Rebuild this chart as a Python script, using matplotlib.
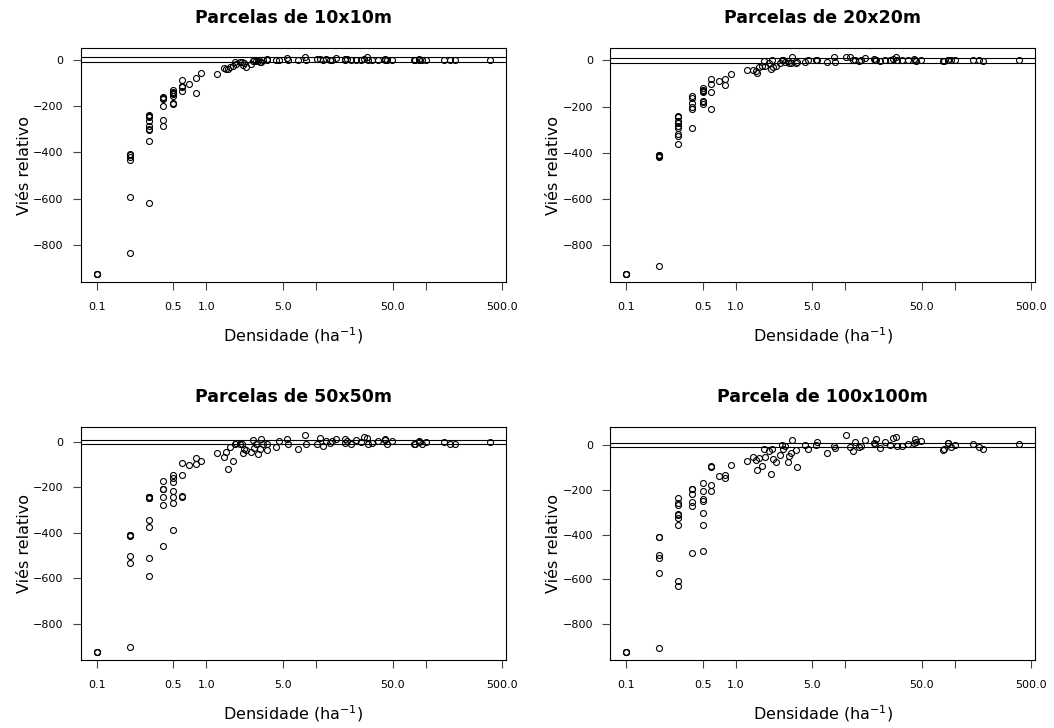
import matplotlib
matplotlib.use("Agg")
import matplotlib.pyplot as plt

# species densities (ha^-1), shared by all plot sizes
dens_low = [0.1, 0.1, 0.1,
            0.2, 0.2, 0.2, 0.2, 0.2, 0.2,
            0.3, 0.3, 0.3, 0.3, 0.3, 0.3, 0.3, 0.3, 0.3,
            0.4, 0.4, 0.4, 0.4, 0.4, 0.4,
            0.5, 0.5, 0.5, 0.5, 0.5, 0.5, 0.5,
            0.6, 0.6, 0.6, 0.6,
            0.7,
            0.8, 0.8,
            0.9]
dens_high = [1.26, 1.45, 1.52, 1.57, 1.63, 1.75, 1.83, 1.86, 2.02, 2.10,
             2.15, 2.19, 2.32, 2.53, 2.67, 2.73, 2.81, 2.99, 3.07, 3.18,
             3.30, 3.56, 3.61, 4.28, 4.62, 5.39, 5.58, 6.80, 7.92, 8.04,
             10.3, 11.0, 11.7, 12.3, 13.4, 14.1, 15.1, 18.4, 18.6, 19.1,
             20.9, 23.2, 25.8, 27.5, 29.5, 29.9, 32.8, 37.2, 42.5, 43.1,
             44.9, 49.9, 78.7, 79.8, 86.3, 88.1, 92.5, 101, 146, 168,
             184, 390]
densidade = dens_low + dens_high

# relative bias (%) for each plot size
vies_10 = [-922, -922, -922,
           -408, -410, -418, -432, -591, -835,
           -239, -245, -247, -264, -288, -297, -303, -350, -617,
           -161, -165, -170, -199, -262, -285,
           -130, -141, -145, -150, -159, -185, -190,
           -87, -115, -120, -137,
           -107,
           -81, -146,
           -58,
           -61, -38, -40, -40, -32, -26, -9, -20, -12, -9,
           -22, -15, -32, -17, -6, -3, -6, -6, -9, -9,
           -3, 3, 0, -3, 0, 6, 0, -3, 11, 0,
           4, 4, 0, 3, 0, 0, 7, 1, 0, 1,
           0, 0, 0, 4, 10, 0, 0, 0, 4, 0,
           0, 0, 0, -3, 3, 0, 0, 0, 0, 0,
           0, 0]
vies_20 = [-922, -922, -922,
           -408, -410, -412, -415, -418, -891,
           -239, -245, -264, -271, -283, -293, -317, -326, -360,
           -156, -163, -185, -203, -211, -294,
           -120, -127, -132, -138, -177, -180, -187,
           -79, -102, -137, -211,
           -88,
           -79, -105,
           -61,
           -40, -40, -48, -55, -29, -23, -4, -23, -14, -37,
           3, -29, -23, -14, 3, 0, -9, -4, -14, -14,
           14, -12, -9, -9, 0, 3, 0, -9, 14, -6,
           13, 14, 3, 0, -4, 3, 10, 6, 3, 0,
           -4, 0, 3, 6, 14, 0, 0, 0, 6, 3,
           -4, 0, -4, -2, 3, 0, 0, 0, 3, 0,
           -4, 3]
vies_50 = [-922, -922, -922,
           -409, -411, -413, -502, -531, -902,
           -242, -244, -244, -245, -246, -343, -372, -510, -590,
           -171, -205, -207, -241, -277, -459,
           -145, -159, -178, -215, -241, -268, -389,
           -91, -145, -236, -241,
           -103,
           -69, -98,
           -85,
           -49, -65, -43, -119, -23, -83, -7, -3, -11, -11,
           -49, -32, -36, -43, 8, -26, -7, -55, -29, 15,
           -7, -11, -36, -24, 4, 15, -7, -32, 29, -8,
           -7, 18, -17, 3, -3, 4, 15, 12, -3, 4,
           -11, 8, 0, 22, 18, -7, -3, 3, 15, 9,
           -7, 3, -11, -8, 0, 4, -7, 0, 0, -7,
           -11, 0]
vies_100 = [-922, -922, -922,
            -409, -412, -493, -503, -570, -905,
            -237, -258, -270, -307, -315, -326, -359, -608, -629,
            -197, -199, -221, -255, -273, -481,
            -172, -208, -243, -249, -303, -359, -475,
            -95, -97, -178, -208,
            -139,
            -134, -147,
            -88,
            -74, -55, -70, -111, -58, -96, -18, -55, -30, -129,
            -21, -62, -77, -47, -3, -21, -6, -77, -50, -36,
            22, -22, -99, -3, -21, 0, 12, -37, -6, -15,
            42, -10, -30, 12, -10, -6, 19, 9, 5, 27,
            -13, 12, 0, 30, 34, -6, -6, 4, 9, 24,
            12, 15, -25, -21, 9, 9, -10, 0, 4, -10,
            -18, 4]

titulos = ["Parcelas de 10x10m", "Parcelas de 20x20m",
           "Parcelas de 50x50m", "Parcela de 100x100m"]
x_ticks = [0.1, 0.5, 1, 5, 10, 50, 100, 500]
x_labels = ["0.1", "0.5", "1.0", "5.0", "", "50.0", "", "500.0"]
y_ticks = [-800, -600, -400, -200, 0]
limites = [-10, 10]

plt.rcParams["font.family"] = "DejaVu Sans"

fig = plt.figure(figsize=(10.54, 7.28), dpi=100)
rects = [[0.0769, 0.6122, 0.4032, 0.3214],
         [0.5792, 0.6122, 0.4027, 0.3214],
         [0.0769, 0.0930, 0.4032, 0.3209],
         [0.5792, 0.0930, 0.4027, 0.3209]]

for rect, titulo, vies in zip(rects, titulos, [vies_10, vies_20, vies_50, vies_100]):
    ax = fig.add_axes(rect)
    ax.set_xscale("log")
    ax.plot(densidade, vies, "o", mfc="none", mec="black", ms=4.3, mew=0.8)
    for h in limites:
        ax.axhline(h, color="black", lw=0.8)
    ax.margins(x=0.04, y=0.04)
    ax.set_xticks(x_ticks)
    ax.set_xticklabels(x_labels)
    ax.minorticks_off()
    ax.set_yticks(y_ticks)
    ax.tick_params(axis="both", direction="out", length=5.5, width=0.8,
                   labelsize=8, color="#444444")
    ax.tick_params(axis="x", pad=9)
    ax.tick_params(axis="y", pad=7)
    for s in ax.spines.values():
        s.set_linewidth(0.8)
    ax.set_xlabel("Densidade (ha$^{-1}$)", fontsize=11.5, labelpad=9)
    ax.set_ylabel("Viés relativo", fontsize=11.5, labelpad=1)
    ax.set_title(titulo, fontsize=12.5, fontweight="bold", pad=18)

fig.savefig("out.png", dpi=100)
